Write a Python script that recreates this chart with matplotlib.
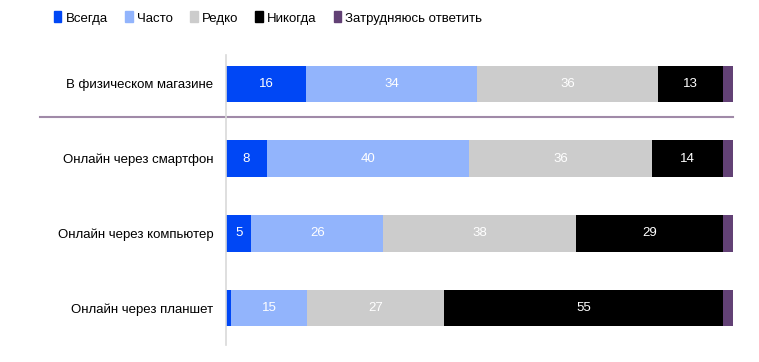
import matplotlib.pyplot as plt
import matplotlib.transforms as mtransforms
from matplotlib.patches import Patch
import numpy as np

plt.rcParams['font.family'] = ['Liberation Sans', 'DejaVu Sans']

categories = ['В физическом магазине', 'Онлайн через смартфон',
              'Онлайн через компьютер', 'Онлайн через планшет']
series = ['Всегда', 'Часто', 'Редко', 'Никогда', 'Затрудняюсь ответить']
always = [16, 8, 5, 1]
often = [34, 40, 26, 15]
rarely = [36, 36, 38, 27]
never = [13, 14, 29, 55]
unsure = [2, 2, 2, 2]
colors = ['#0047F5', '#92B4FC', '#CCCCCC', '#000000', '#624175']

data = np.array([always, often, rarely, never, unsure], dtype=float)
shares = data / data.sum(axis=0) * 100  # each bar fills 100%

fig = plt.figure(figsize=(7.59, 3.62), dpi=100)
ax = fig.add_axes([226 / 759, 1 - 345 / 362, 507 / 759, 290 / 362])

y = np.arange(len(categories))
left = np.zeros(len(categories))
for i, name in enumerate(series):
    ax.barh(y, shares[i], left=left, height=0.49, color=colors[i],
            edgecolor='none', label=name)
    if i < 4:
        for j in range(len(categories)):
            if data[i, j] >= 5:
                ax.text(left[j] + shares[i, j] / 2, y[j], str(int(data[i, j])),
                        ha='center', va='center', color='white', fontsize=9.5)
    left += shares[i]

ax.set_xlim(0, 100)
ax.set_ylim(3.493, -0.387)
ax.set_xticks([])
ax.set_yticks(y)
ax.set_yticklabels(categories, fontsize=9.5)
ax.tick_params(axis='y', length=0, pad=9)
for s in ['top', 'right', 'bottom']:
    ax.spines[s].set_visible(False)
ax.spines['left'].set_color('#D9D9D9')
ax.spines['left'].set_linewidth(1.2)

# separator between store and online rows
trans = mtransforms.blended_transform_factory(ax.transAxes, ax.transData)
ax.plot([-0.367, 1], [0.44, 0.44], transform=trans, color='#A08AA8',
        linewidth=1.5, clip_on=False)

handles = [Patch(color=c, label=s) for c, s in zip(colors, series)]
fig.legend(handles=handles, loc='center', bbox_to_anchor=(268 / 759, 1 - 18 / 362),
           ncol=5, frameon=False, fontsize=9.5, handlelength=0.6, handleheight=0.9,
           handletextpad=0.3, columnspacing=1.3)

fig.savefig('out.png', dpi=100)
